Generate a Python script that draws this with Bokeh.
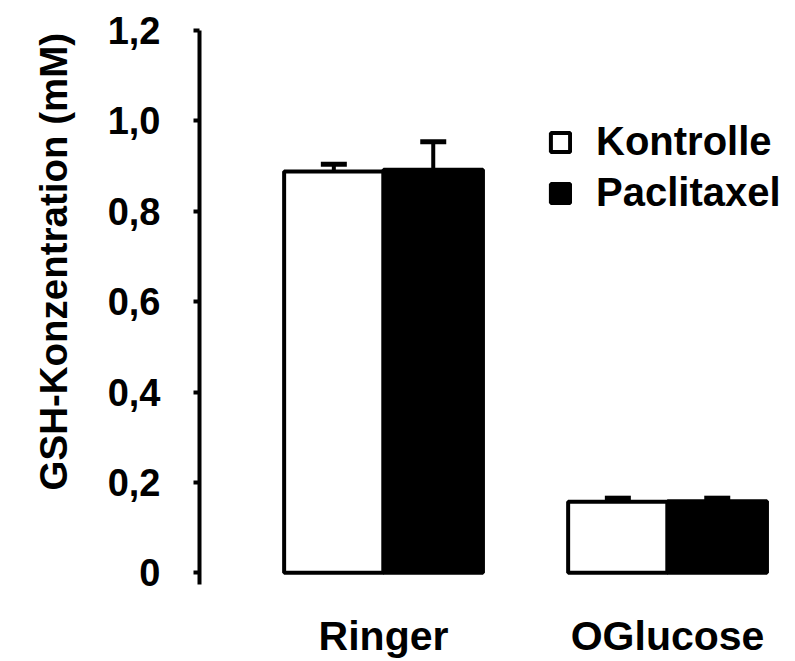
import math
from bokeh.plotting import figure
from bokeh.models import (Range1d, FixedTicker, Whisker, TeeHead, ColumnDataSource,
                          Legend, LegendItem, Title)
from bokeh.embed import file_html
from bokeh.resources import INLINE

# ---- data ----
groups = ["Ringer", "OGlucose"]
series = ["Kontrolle", "Paclitaxel"]
kontrolle = [0.888, 0.157]
kontrolle_err = [0.016, 0.008]
paclitaxel = [0.892, 0.158]
paclitaxel_err = [0.062, 0.007]
y_ticks = [0, 0.2, 0.4, 0.6, 0.8, 1.0, 1.2]
y_tick_labels = ["0", "0,2", "0,4", "0,6", "0,8", "1,0", "1,2"]
y_title = "GSH-Konzentration (mM)"

FONT = "Liberation Sans"
BAR_W = 0.35
DODGE = 0.175

p = figure(width=795, height=661, output_backend="svg", toolbar_location=None,
           x_range=Range1d(-0.648, 1.4505), y_range=Range1d(-0.026, 1.2),
           min_border_left=199, min_border_right=0, min_border_top=30, min_border_bottom=72)
p.outline_line_color = None
p.xgrid.visible = False
p.ygrid.visible = False
p.background_fill_color = "white"
p.border_fill_color = "white"

idx = list(range(len(groups)))
src_k = ColumnDataSource(dict(x=[i - DODGE for i in idx], top=kontrolle,
                              upper=[v + e for v, e in zip(kontrolle, kontrolle_err)]))
src_p = ColumnDataSource(dict(x=[i + DODGE for i in idx], top=paclitaxel,
                              upper=[v + e for v, e in zip(paclitaxel, paclitaxel_err)]))

r_k = p.vbar(x="x", top="top", bottom=0, width=BAR_W, source=src_k,
             fill_color="white", line_color="black", line_width=4)
r_p = p.vbar(x="x", top="top", bottom=0, width=BAR_W, source=src_p,
             fill_color="black", line_color="black", line_width=4)

for src in (src_k, src_p):
    w = Whisker(base="x", lower="top", upper="upper", source=src, line_color="black",
                line_width=4, level="overlay",
                upper_head=TeeHead(size=26, line_width=5, line_color="black"),
                lower_head=None)
    p.add_layout(w)

# y axis
p.yaxis.ticker = FixedTicker(ticks=y_ticks)
p.yaxis.major_label_overrides = {t: l for t, l in zip(y_ticks, y_tick_labels)}
p.yaxis.axis_line_width = 4
p.yaxis.axis_line_color = "black"
p.yaxis.major_tick_line_width = 4
p.yaxis.major_tick_out = 6
p.yaxis.major_tick_in = 0
p.yaxis.minor_tick_line_color = None
p.yaxis.major_label_standoff = 33
p.yaxis.major_label_text_font = FONT
p.yaxis.major_label_text_font_style = "bold"
p.yaxis.major_label_text_font_size = "38px"
p.yaxis.major_label_text_color = "black"

# x axis
p.xaxis.ticker = FixedTicker(ticks=idx)
p.xaxis.major_label_overrides = {i: g for i, g in zip(idx, groups)}
p.xaxis.axis_line_color = None
p.xaxis.major_tick_line_color = None
p.xaxis.minor_tick_line_color = None
p.xaxis.major_label_standoff = 22
p.xaxis.major_label_text_font = FONT
p.xaxis.major_label_text_font_style = "bold"
p.xaxis.major_label_text_font_size = "41px"
p.xaxis.major_label_text_color = "black"

# y title as a side title
p.add_layout(Title(text=y_title, align="left", vertical_align="top", offset=94,
                   standoff=55, text_font=FONT, text_font_style="bold",
                   text_font_size="38.5px", text_color="black"), "left")

legend = Legend(items=[LegendItem(label=series[0], renderers=[r_k]),
                       LegendItem(label=series[1], renderers=[r_p])],
                location=(349, 369), border_line_color=None, background_fill_alpha=0,
                label_text_font=FONT, label_text_font_style="bold",
                label_text_font_size="40px", label_text_color="black",
                glyph_width=24, glyph_height=24, label_standoff=24,
                spacing=6, padding=0, margin=0)
p.add_layout(legend)

open("out.html", "w").write(file_html(p, INLINE))
